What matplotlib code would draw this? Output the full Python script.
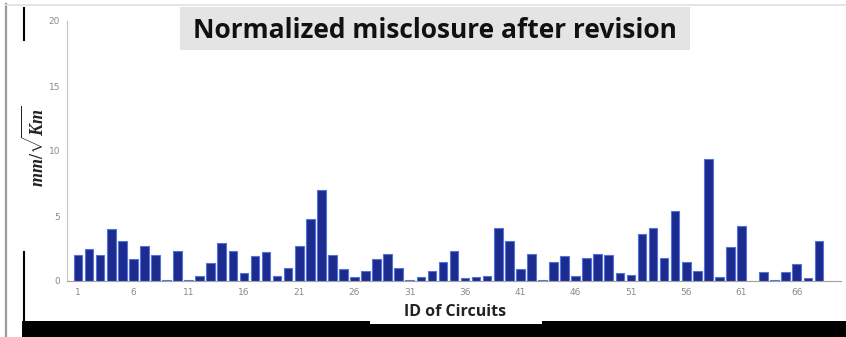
import matplotlib
matplotlib.use('Agg')
import matplotlib.pyplot as plt
from matplotlib.patches import Rectangle
import numpy as np

plt.rcParams['mathtext.fontset'] = 'custom'
plt.rcParams['mathtext.it'] = 'Liberation Serif:italic:bold'
plt.rcParams['mathtext.rm'] = 'Liberation Serif:bold'

# Circuit misclosures (mm/sqrt(Km)) after revision --------
circuit_ids = list(range(1, 69))
misclosure = [2.0, 2.5, 2.0, 4.0, 3.1, 1.7, 2.7, 2.0, 0.1, 2.3,
              0.1, 0.4, 1.4, 2.9, 2.3, 0.6, 1.9, 2.2, 0.4, 1.0,
              2.7, 4.75, 7.0, 2.0, 0.9, 0.3, 0.8, 1.7, 2.1, 1.0,
              0.1, 0.3, 0.8, 1.5, 2.3, 0.2, 0.3, 0.4, 4.1, 3.1,
              0.9, 2.1, 0.1, 1.5, 1.9, 0.4, 1.8, 2.1, 2.0, 0.6,
              0.5, 3.6, 4.1, 1.8, 5.4, 1.5, 0.8, 9.4, 0.3, 2.6,
              4.2, 0.0, 0.7, 0.1, 0.7, 1.3, 0.2, 3.1]
xtick_ids = list(range(1, 67, 5))
ytick_vals = [0, 5, 10, 15, 20]

W, H = 846, 337
fig = plt.figure(figsize=(W / 100, H / 100), dpi=100)


def fx(x):
    return x / W


def fy(y):
    return 1 - y / H


# Title banner sits behind the (transparent) axes
fig.add_artist(Rectangle((fx(180), fy(50)), fx(690) - fx(180), fy(7) - fy(50),
                         transform=fig.transFigure, facecolor='#e4e4e4',
                         edgecolor='none', zorder=0))

ax = fig.add_axes([fx(67), fy(281), fx(841) - fx(67), fy(21) - fy(281)])
ax.patch.set_visible(False)
ax.bar(circuit_ids, misclosure, width=0.78, color='#1b2b8e',
       edgecolor='#5573dc', linewidth=0.8)
ax.set_xlim(0, 70)
ax.set_ylim(0, 20)
ax.set_xticks(xtick_ids)
ax.set_yticks(ytick_vals)
ax.tick_params(length=0, labelsize=6.5, colors='#8a8a8a', pad=5)
for s in ['top', 'right']:
    ax.spines[s].set_visible(False)
ax.spines['left'].set_color('#c4c4c4')
ax.spines['bottom'].set_color('#a0a0a0')
ax.set_ylabel(r'$mm/\sqrt{Km}$', fontsize=13, color='#222222')
ax.yaxis.set_label_coords(-0.025, 0.52)

fig.text(fx(435), fy(30), 'Normalized misclosure after revision',
         family='Open Sans', weight='bold', fontsize=19,
         ha='center', va='center', color='#111111')

fig.text(fx(455), fy(312), 'ID of Circuits', family='Open Sans',
         weight='bold', fontsize=11.5, ha='center', va='center',
         color='#222222')

# Page frame around the chart
fig.add_artist(Rectangle((fx(22), 0), 1 - fx(22), fy(321),
                         transform=fig.transFigure, facecolor='black',
                         edgecolor='none'))
fig.add_artist(Rectangle((fx(370), fy(324)), fx(542) - fx(370), fy(321) - fy(324),
                         transform=fig.transFigure, facecolor='white',
                         edgecolor='none'))
fig.add_artist(plt.Line2D([fx(6), fx(6)], [0, fy(4)], transform=fig.transFigure,
                          color='#9a9a9a', linewidth=1.6))
fig.add_artist(plt.Line2D([fx(6), 1], [fy(5), fy(5)], transform=fig.transFigure,
                          color='#e0e0e0', linewidth=1.2))
fig.add_artist(plt.Line2D([fx(24), fx(24)], [fy(40), fy(8)], transform=fig.transFigure,
                          color='black', linewidth=1.5))
fig.add_artist(plt.Line2D([fx(24), fx(24)], [0, fy(252)], transform=fig.transFigure,
                          color='black', linewidth=1.5))

fig.savefig('out.png', dpi=100)
